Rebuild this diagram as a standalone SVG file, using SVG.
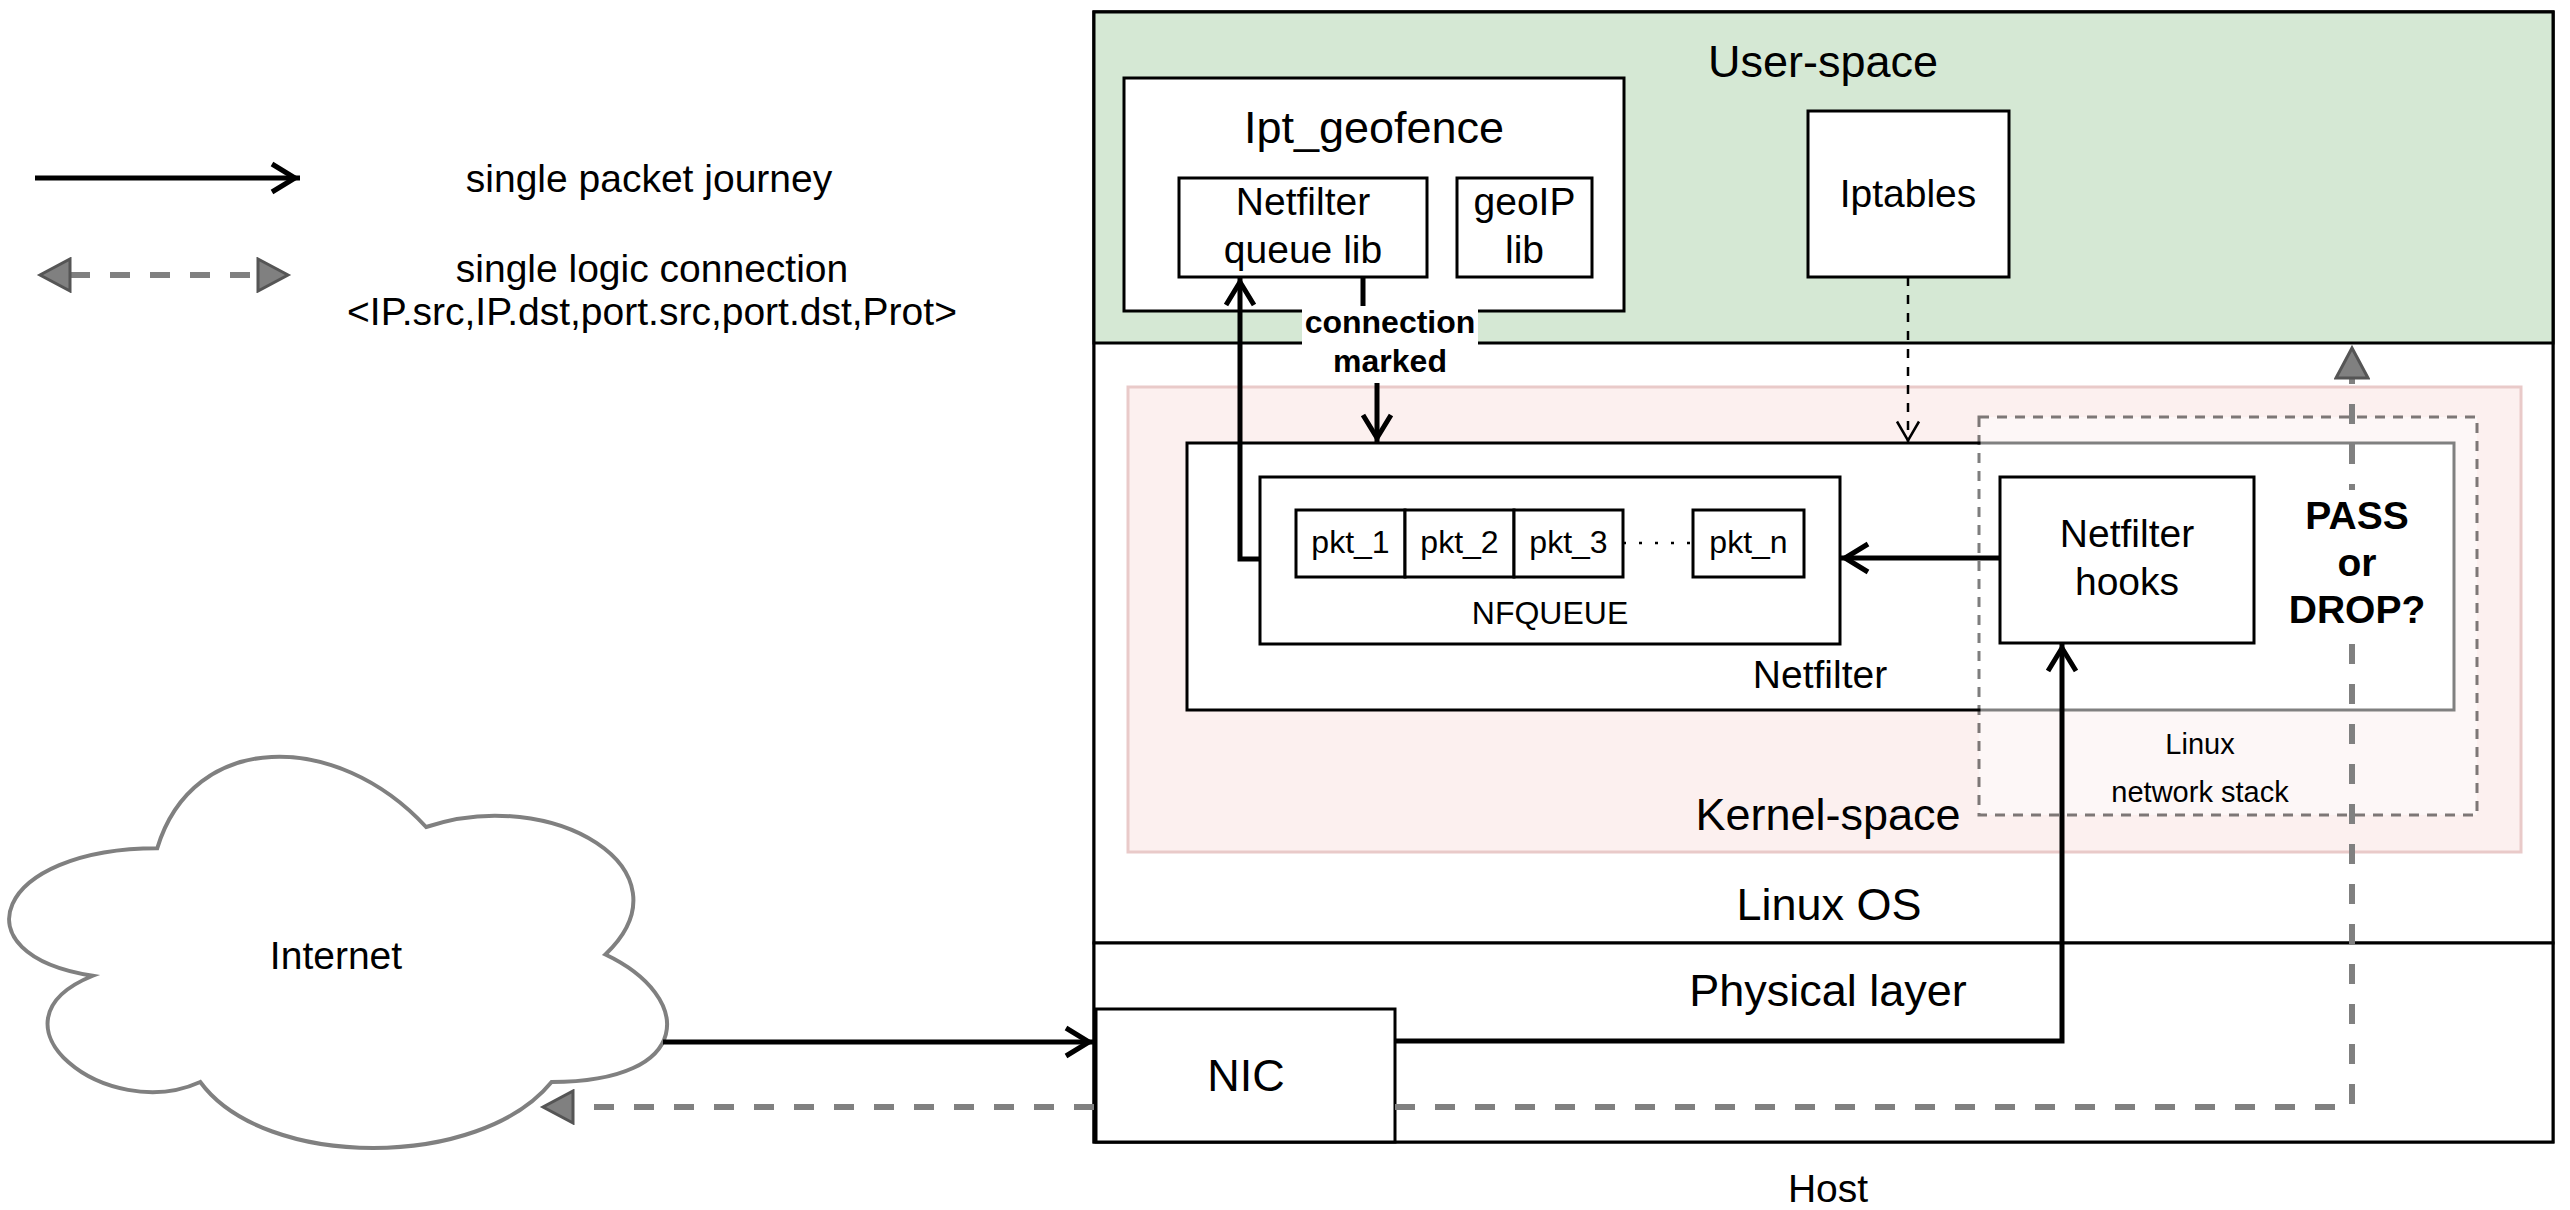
<svg xmlns="http://www.w3.org/2000/svg" width="2570" height="1210" viewBox="0 0 2570 1210">
<style>
text{font-family:"Liberation Sans",Arial,Helvetica,sans-serif;fill:#000;text-anchor:middle}
.box{fill:#fff;stroke:#000;stroke-width:3}
.t39{font-size:39px}
.t45{font-size:45px}
.t32{font-size:32px}
.t29{font-size:29px}
.b{font-weight:bold}
.thick{fill:none;stroke:#000;stroke-width:5}
.logic{fill:none;stroke:#808080;stroke-width:6;stroke-dasharray:20 20}
</style>
<defs>
<marker id="open" viewBox="0 0 34 34" refX="31" refY="17" markerWidth="34" markerHeight="34" markerUnits="userSpaceOnUse" orient="auto">
<path d="M3,3 L26,17 L3,31" fill="none" stroke="#000" stroke-width="5"/>
</marker>
<marker id="openThin" viewBox="0 0 28 28" refX="24.5" refY="14" markerWidth="28" markerHeight="28" markerUnits="userSpaceOnUse" orient="auto">
<path d="M3,3 L22,14 L3,25" fill="none" stroke="#000" stroke-width="2.5"/>
</marker>
<marker id="blk" viewBox="0 0 36 36" refX="2" refY="18" markerWidth="36" markerHeight="36" markerUnits="userSpaceOnUse" orient="auto-start-reverse">
<path d="M2,2 L32,18 L2,34 Z" fill="#808080" stroke="#555" stroke-width="3"/>
</marker>
</defs>
<rect width="2570" height="1210" fill="#fff"/>

<g id="host">
<rect class="box" x="1094" y="12" width="1459" height="1130"/>
<text class="t39" x="1828" y="1202">Host</text>
</g>
<g id="linux-os">
<rect class="box" x="1094" y="12" width="1459" height="931"/>
<text class="t45" x="1829" y="920">Linux OS</text>
</g>
<g id="physical-layer">
<rect class="box" x="1094" y="943" width="1459" height="199"/>
<text class="t45" x="1828" y="1006">Physical layer</text>
</g>
<g id="user-space">
<rect x="1094" y="12" width="1459" height="331" fill="#d5e8d4" stroke="#000" stroke-width="3"/>
<text class="t45" x="1823" y="77">User-space</text>
</g>
<g id="ipt-geofence">
<rect class="box" x="1124" y="78" width="500" height="233"/>
<text class="t45" x="1374" y="143">Ipt_geofence</text>
</g>
<g id="nf-queue-lib">
<rect class="box" x="1179" y="178" width="248" height="99"/>
<text class="t39" x="1303" y="215">Netfilter</text>
<text class="t39" x="1303" y="263">queue lib</text>
</g>
<g id="geoip-lib">
<rect class="box" x="1457" y="178" width="135" height="99"/>
<text class="t39" x="1524.5" y="215">geoIP</text>
<text class="t39" x="1524.5" y="263">lib</text>
</g>
<g id="iptables">
<rect class="box" x="1808" y="111" width="201" height="166"/>
<text class="t39" x="1908" y="207">Iptables</text>
</g>
<g id="kernel-space">
<rect x="1128" y="387" width="1393" height="465" fill="#f8cecc" stroke="#b85450" stroke-width="3" opacity="0.3"/>
<text class="t45" x="1828" y="830">Kernel-space</text>
</g>
<g id="netfilter">
<rect class="box" x="1187" y="443" width="1267" height="267"/>
<text class="t39" x="1820" y="688">Netfilter</text>
</g>
<g id="nfqueue">
<rect class="box" x="1260" y="477" width="580" height="167"/>
<text class="t32" x="1550" y="624">NFQUEUE</text>
</g>
<g id="pkt-1">
<rect class="box" x="1296" y="510" width="109" height="67"/>
<text class="t32" x="1350.5" y="553">pkt_1</text>
</g>
<g id="pkt-2">
<rect class="box" x="1405" y="510" width="109" height="67"/>
<text class="t32" x="1459.5" y="553">pkt_2</text>
</g>
<g id="pkt-3">
<rect class="box" x="1514" y="510" width="109" height="67"/>
<text class="t32" x="1568.5" y="553">pkt_3</text>
</g>
<g id="pkt-n">
<rect class="box" x="1693" y="510" width="111" height="67"/>
<text class="t32" x="1748.5" y="553">pkt_n</text>
</g>
<g id="linux-network-stack">
<rect x="1979" y="417" width="498" height="398" fill="#fff" stroke="#000" stroke-width="3" stroke-dasharray="10 8" opacity="0.5"/>
<text class="t29" x="2200" y="754">Linux</text>
<text class="t29" x="2200" y="802">network stack</text>
</g>
<g id="netfilter-hooks">
<rect class="box" x="2000" y="477" width="254" height="166"/>
<text class="t39" x="2127" y="547">Netfilter</text>
<text class="t39" x="2127" y="595">hooks</text>
</g>
<g id="nic">
<rect class="box" x="1096" y="1009" width="299" height="133"/>
<text class="t45" x="1246" y="1091">NIC</text>
</g>
<g id="internet">
<path d="M157.25,848.25 C-5,848.25 -45,954.5 92.72,975.75 C-22,1022.5 107.06,1124.5 200.27,1082 C264.8,1170 479.9,1170 551.6,1082 C695,1082 695,997 605.4,954.5 C695,869.5 551.6,784.5 426.1,827 C336.5,730 193.1,730 157.25,848.25 Z" fill="#fff" stroke="#808080" stroke-width="4"/>
<text class="t39" x="336" y="969">Internet</text>
</g>

<g id="connectors">
<path class="thick" d="M663,1042 H1094" marker-end="url(#open)"/>
<path class="thick" d="M1395,1041 H2062 V643" marker-end="url(#open)"/>
<path class="thick" d="M2000,558 H1840" marker-end="url(#open)"/>
<path class="thick" d="M1260,559 H1240 V277" marker-end="url(#open)"/>
<path class="thick" d="M1363,277 V345 H1377 V443" marker-end="url(#open)"/>
<path d="M1908,277 V443" fill="none" stroke="#000" stroke-width="2.5" stroke-dasharray="9 9" marker-end="url(#openThin)"/>
<path d="M1623,543 H1693" fill="none" stroke="#000" stroke-width="2.5" stroke-dasharray="3 13"/>
<path class="logic" d="M1094,1107 H573" marker-end="url(#blk)"/>
<path class="logic" d="M1395,1107 H2352 V378" marker-end="url(#blk)"/>
</g>

<g id="connection-marked-label">
<rect x="1302" y="306" width="176" height="77" fill="#fff"/>
<text class="t32 b" x="1390" y="333">connection</text>
<text class="t32 b" x="1390" y="372">marked</text>
</g>
<g id="pass-or-drop">
<rect x="2287" y="490" width="140" height="146" fill="#fff"/>
<text class="t39 b" x="2357" y="529">PASS</text>
<text class="t39 b" x="2357" y="576">or</text>
<text class="t39 b" x="2357" y="623">DROP?</text>
</g>

<g id="legend">
<path class="thick" d="M35,178 H300" marker-end="url(#open)"/>
<text class="t39" x="649" y="192">single packet journey</text>
<path class="logic" d="M70,275 H258" marker-start="url(#blk)" marker-end="url(#blk)"/>
<text class="t39" x="652" y="282">single logic connection</text>
<text class="t39" x="652" y="325">&lt;IP.src,IP.dst,port.src,port.dst,Prot&gt;</text>
</g>
</svg>
